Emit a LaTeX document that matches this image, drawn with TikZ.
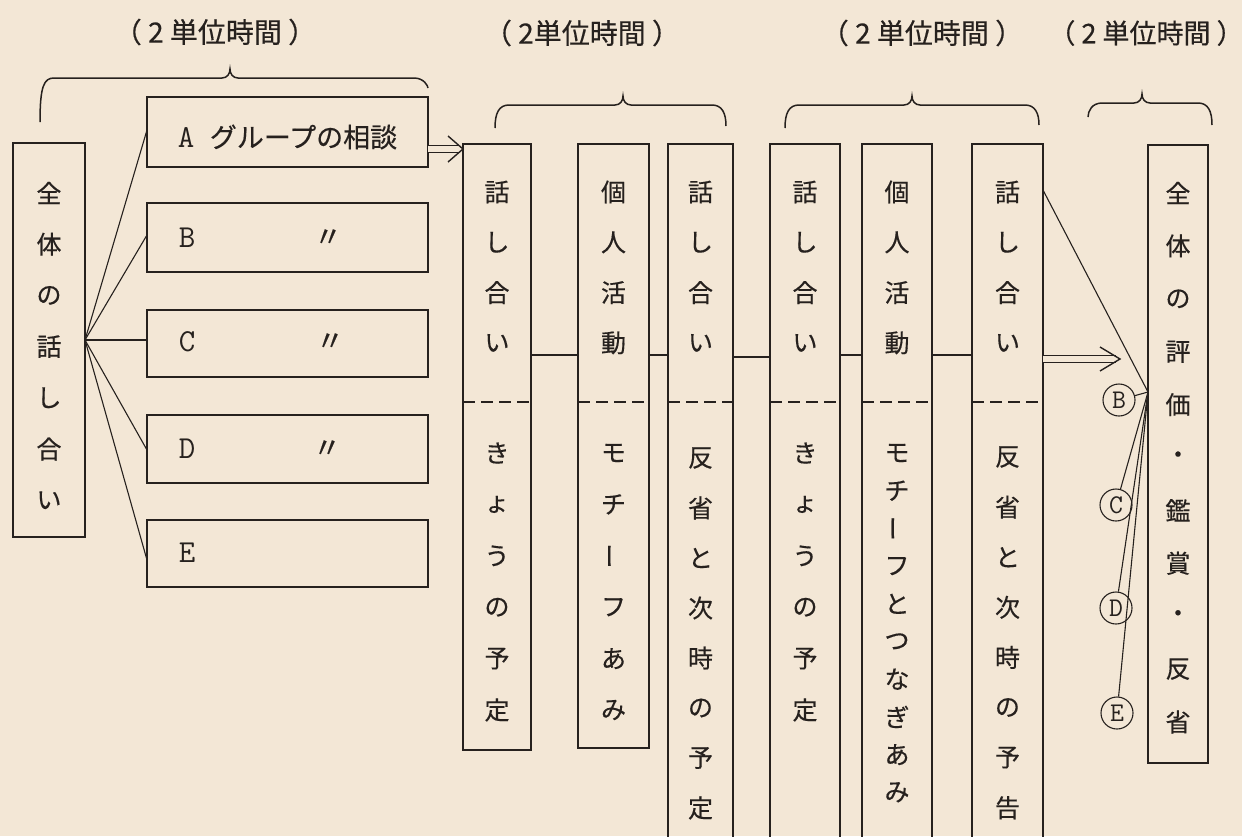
\documentclass[tikz,border=0pt]{standalone}
\usepackage{fontspec}
\usepackage{graphicx}
\newfontfamily\cjk[FakeBold=0.4]{Noto Sans CJK JP}
\usetikzlibrary{arrows.meta}
\definecolor{paper}{RGB}{243,231,214}
\definecolor{ink}{RGB}{38,33,30}
\tikzset{
 box/.style={draw=ink, line width=1.6pt, inner sep=0pt, outer sep=0pt, rectangle},
 conn/.style={draw=ink, line width=1.4pt},
 fan/.style={draw=ink, line width=1.1pt},
 dsh/.style={draw=ink, line width=1.4pt, dash pattern=on 12pt off 6pt},
 dbl/.style={draw=ink, double=paper, double distance=6pt, line width=1.4pt, shorten >=4pt},
 chev/.style={draw=ink, line width=1.4pt, line join=miter},
 brc/.style={draw=ink, line width=1.5pt},
 vch/.style={font=\cjk\fontsize{25}{25}\selectfont, text=ink, inner sep=0pt},
 lbl/.style={font=\cjk\fontsize{28}{28}\selectfont, text=ink, inner sep=0pt},
 grp/.style={font=\cjk\fontsize{27}{27}\selectfont, text=ink, inner sep=0pt},
 dit/.style={font=\cjk\fontsize{28}{28}\selectfont, text=ink, inner sep=0pt},
 lat/.style={font=\ttfamily\fontsize{32}{32}\selectfont, text=ink, inner sep=0pt},
 circ/.style={circle, draw=ink, line width=1.1pt, minimum size=32pt, inner sep=0pt, font=\ttfamily\fontsize{27}{27}\selectfont, text=ink},
}
\newcommand\vtxt[5]{\foreach \ch [count=\i from 0] in {#5} {\node[vch] (#1-\i) at (#2,{#3+\i*#4}) {\ch};}}
\newcommand\tbrace[6]{\draw[brc] (#1,#2) .. controls (#1,{#4+8}) and ({#1+4},#4) .. ({#1+14},#4) -- ({#3-8},#4) .. controls ({#3-3},#4) and (#3,{#4-4}) .. (#3,{#4-9}) .. controls (#3,{#4-4}) and ({#3+3},#4) .. ({#3+8},#4) -- ({#5-14},#4) .. controls ({#5-4},#4) and (#5,{#4+8}) .. (#5,#6);}
\newcommand\vbar{\rotatebox[origin=c]{90}{ー}}
\newcommand\tlabel[1]{\kern-0.45em#1\kern-0.45em}
\begin{document}
\begin{tikzpicture}[x=1pt,y=-1pt]
\path[use as bounding box, fill=paper] (0,0) rectangle (1242,836);
\clip (0,0) rectangle (1242,836);

% time labels
\node[lbl] (h1) at (215,32) {\tlabel{（ 2 単位時間 ）}};
\node[lbl] (h2) at (582,33) {\tlabel{（ 2単位時間 ）}};
\node[lbl] (h3) at (922,33) {\tlabel{（ 2 単位時間 ）}};
\node[lbl, font=\cjk\fontsize{27}{27}\selectfont] (h4) at (1146,33) {\tlabel{（ 2 単位時間 ）}};

% braces
\tbrace{40}{122}{230}{78}{428}{88}
\tbrace{495}{128}{623}{105}{726}{126}
\tbrace{785}{128}{912}{105}{1039}{125}
\tbrace{1088}{117}{1142}{103}{1212}{125}

% left box
\node[box, minimum width=72pt, minimum height=394pt] (L) at (49,340) {};
\vtxt{Lt}{49}{193}{51.2}{全,体,の,話,し,合,い}

% group boxes
\node[box, minimum width=281pt, minimum height=70pt] (A) at (287.5,132) {};
\node[box, minimum width=281pt, minimum height=69pt] (B) at (287.5,237.5) {};
\node[box, minimum width=281pt, minimum height=67pt] (C) at (287.5,343.5) {};
\node[box, minimum width=281pt, minimum height=68pt] (D) at (287.5,449) {};
\node[box, minimum width=281pt, minimum height=67pt] (E) at (287.5,553.5) {};
\node[lat] (Aa) at (186,137) {A};
\node[grp] (Ab) at (303.5,137) {グループの相談};
\node[lat] (Ba) at (187,238) {B};
\node[dit] (Bb) at (328,238) {〃};
\node[lat] (Ca) at (187,342) {C};
\node[dit] (Cb) at (330,342) {〃};
\node[lat] (Da) at (187,449) {D};
\node[dit] (Db) at (327,449) {〃};
\node[lat] (Ea) at (187,553) {E};

% left fan
\draw[fan] (L.east) -- (A.west |- 0,130);
\draw[fan] (L.east) -- (B.west |- 0,235);
\draw[fan] (L.east) -- (C.west |- 0,340);
\draw[fan] (L.east) -- (D.west |- 0,450);
\draw[fan] (L.east) -- (E.west |- 0,560);

% columns
\node[box, minimum width=68pt, minimum height=606pt] (c1) at (497,447) {};
\node[box, minimum width=71pt, minimum height=604pt] (c2) at (613.5,446) {};
\node[box, minimum width=65pt, minimum height=706pt] (c3) at (700.5,497) {};
\node[box, minimum width=70pt, minimum height=706pt] (c4) at (805,497) {};
\node[box, minimum width=70pt, minimum height=706pt] (c5) at (897,497) {};
\node[box, minimum width=71pt, minimum height=706pt] (c6) at (1007.5,497) {};
\node[box, minimum width=60pt, minimum height=618pt] (c7) at (1178,454) {};

\foreach \c in {c1,c2,c3,c4,c5,c6}{\draw[dsh] (\c.west |- 0,402) -- (\c.east |- 0,402);}

\vtxt{c1a}{497}{192}{50.3}{話,し,合,い}
\vtxt{c1b}{497}{453}{51.4}{き,ょ,う,の,予,定}
\vtxt{c2a}{613.5}{192}{50.3}{個,人,活,動}
\vtxt{c2b}{613.5}{453}{51.4}{モ,チ,\vbar,フ,あ,み}
\vtxt{c3a}{700.5}{192}{50.3}{話,し,合,い}
\vtxt{c3b}{700.5}{458}{50}{反,省,と,次,時,の,予,定}
\vtxt{c4a}{805}{192}{50.3}{話,し,合,い}
\vtxt{c4b}{805}{453}{51.4}{き,ょ,う,の,予,定}
\vtxt{c5a}{897}{192}{50.3}{個,人,活,動}
\vtxt{c5b}{897}{453}{37.7}{モ,チ,\vbar,フ,と,つ,な,ぎ,あ,み}
\vtxt{c6a}{1007.5}{192}{50.3}{話,し,合,い}
\vtxt{c6b}{1007.5}{457}{50.1}{反,省,と,次,時,の,予,告}
\vtxt{c7a}{1178}{193}{52.9}{全,体,の,評,価,・,鑑,賞,・,反,省}

% double arrow A -> first column
\coordinate (tipA) at (c1.west |- 0,149);
\draw[dbl] (A.east |- 0,149) -- (tipA);
\draw[chev] (tipA) ++(-15,-13) -- (tipA) -- ++(-15,13);

% connectors between columns
\draw[conn] (c1.east |- 0,355) -- (c2.west |- 0,355);
\draw[conn] (c2.east |- 0,355) -- (c3.west |- 0,355);
\draw[conn] (c3.east |- 0,357) -- (c4.west |- 0,357);
\draw[conn] (c4.east |- 0,355) -- (c5.west |- 0,355);
\draw[conn] (c5.east |- 0,355) -- (c6.west |- 0,355);

% double arrow last column -> evaluation
\coordinate (tipR) at (1120,359);
\draw[dbl] (c6.east |- 0,359) -- (tipR);
\draw[chev] (tipR) ++(-20,-12) -- (tipR) -- ++(-20,12);

% right fan and circled letters
\node[circ] (Bc) at (1119,400) {B};
\node[circ] (Cc) at (1116,505) {C};
\node[circ] (Dc) at (1116,608) {D};
\node[circ] (Ec) at (1117,713) {E};
\coordinate (hub) at (c7.west |- 0,392);
\draw[fan] (hub) -- (c6.east |- 0,190);
\draw[fan] (hub) -- (Bc);
\draw[fan] (hub) -- (Cc);
\draw[fan] (hub) -- (Dc);
\draw[fan] (hub) -- (Ec);
\end{tikzpicture}
\end{document}
